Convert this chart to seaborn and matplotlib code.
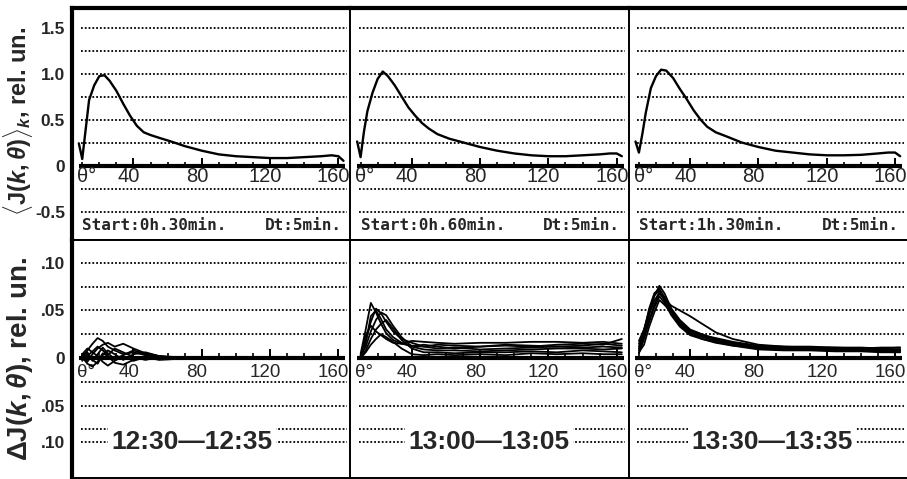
import numpy as np
import pandas as pd
import matplotlib
matplotlib.use("Agg")
import matplotlib.pyplot as plt
import seaborn as sns

# ---- data ----
# upper row: averaged angular distribution <J(k,theta)>_k
theta_top = [8, 10, 12, 14, 17, 20, 23, 26, 30, 34, 38, 42, 46, 50, 55, 62, 70,
             80, 90, 100, 110, 120, 130, 140, 150, 156, 160, 163]
mean_0030 = [0.25, 0.08, 0.40, 0.72, 0.88, 0.98, 0.99, 0.93, 0.82, 0.68, 0.55, 0.44, 0.37, 0.34,
             0.31, 0.27, 0.22, 0.17, 0.13, 0.11, 0.10, 0.09, 0.09, 0.10, 0.11, 0.12, 0.11, 0.06]
mean_0060 = [0.27, 0.10, 0.38, 0.60, 0.80, 0.95, 1.03, 0.98, 0.88, 0.76, 0.64, 0.55, 0.47, 0.41,
             0.35, 0.30, 0.26, 0.21, 0.17, 0.14, 0.12, 0.11, 0.11, 0.12, 0.13, 0.14, 0.14, 0.11]
mean_0130 = [0.27, 0.15, 0.35, 0.58, 0.85, 0.98, 1.05, 1.04, 0.96, 0.84, 0.73, 0.61, 0.51, 0.43,
             0.37, 0.32, 0.26, 0.21, 0.17, 0.15, 0.13, 0.12, 0.12, 0.125, 0.14, 0.15, 0.15, 0.11]
start_labels = ["Start:0h.30min.", "Start:0h.60min.", "Start:1h.30min."]
dt_label = "Dt:5min."

# lower row: deviations dJ(k,theta) for the individual k
theta_bot = [10, 13, 16, 19, 22, 25, 29, 34, 40, 47, 55, 65, 80, 95, 110, 125, 140, 152, 163]
dev_1230 = [
    [0.0, 0.008, 0.015, 0.021, 0.018, 0.012, 0.008, 0.004, 0.006, 0.003, 0.001, 0.001, 0.0, 0.001, 0.0, 0.001, 0.0, 0.001, 0.0],
    [0.002, -0.004, 0.004, 0.010, 0.014, 0.016, 0.012, 0.015, 0.010, 0.005, 0.002, 0.001, -0.001, 0.0, 0.001, 0.0, -0.001, 0.0, 0.001],
    [-0.003, 0.005, -0.002, -0.006, 0.003, 0.008, 0.004, -0.002, 0.004, 0.006, 0.002, 0.0, 0.001, -0.001, 0.0, 0.001, 0.001, -0.001, 0.0],
    [0.004, 0.010, 0.006, 0.002, -0.004, -0.008, -0.003, 0.002, -0.003, 0.001, -0.002, -0.001, 0.0, 0.001, -0.001, -0.001, 0.0, 0.0, 0.001],
    [0.001, -0.006, -0.009, -0.004, 0.005, 0.002, -0.005, -0.007, -0.002, 0.002, 0.0, 0.001, -0.001, 0.0, 0.0, 0.0, 0.001, 0.001, -0.001],
    [-0.002, 0.002, 0.007, 0.012, 0.008, 0.003, 0.010, 0.006, 0.001, -0.002, 0.001, -0.001, 0.001, 0.0, -0.001, 0.0, 0.0, -0.001, 0.0],
    [0.003, 0.006, -0.003, 0.004, 0.011, 0.005, -0.001, 0.003, 0.008, 0.004, 0.002, 0.0, 0.0, -0.001, 0.001, -0.001, -0.001, 0.001, 0.0],
]
dev_1300 = [
    [0.004, 0.030, 0.058, 0.048, 0.036, 0.026, 0.019, 0.015, 0.013, 0.012, 0.014, 0.013, 0.012, 0.013, 0.012, 0.014, 0.015, 0.014, 0.020],
    [0.0, 0.018, 0.038, 0.052, 0.047, 0.038, 0.028, 0.020, 0.016, 0.012, 0.010, 0.011, 0.009, 0.010, 0.011, 0.012, 0.011, 0.012, 0.011],
    [0.002, 0.012, 0.028, 0.040, 0.048, 0.045, 0.034, 0.022, 0.012, 0.009, 0.008, 0.008, 0.007, 0.008, 0.009, 0.010, 0.010, 0.009, 0.010],
    [0.0, 0.008, 0.020, 0.030, 0.036, 0.040, 0.031, 0.019, 0.010, 0.006, 0.006, 0.005, 0.006, 0.006, 0.007, 0.006, 0.008, 0.007, 0.006],
    [0.002, 0.024, 0.034, 0.028, 0.024, 0.020, 0.016, 0.015, 0.018, 0.017, 0.016, 0.015, 0.016, 0.016, 0.017, 0.017, 0.016, 0.017, 0.015],
    [0.0, 0.006, 0.014, 0.020, 0.025, 0.022, 0.017, 0.010, 0.004, 0.003, 0.004, 0.003, 0.004, 0.003, 0.005, 0.004, 0.005, 0.004, 0.004],
    [0.001, 0.016, 0.044, 0.050, 0.041, 0.030, 0.022, 0.016, 0.012, 0.014, 0.012, 0.010, 0.012, 0.014, 0.013, 0.012, 0.013, 0.015, 0.013],
]
dev_1330 = [
    [0.008, 0.025, 0.045, 0.065, 0.076, 0.068, 0.052, 0.040, 0.030, 0.025, 0.020, 0.016, 0.012, 0.011, 0.010, 0.010, 0.009, 0.009, 0.009],
    [0.012, 0.030, 0.050, 0.066, 0.071, 0.060, 0.047, 0.036, 0.028, 0.023, 0.019, 0.015, 0.011, 0.010, 0.010, 0.009, 0.009, 0.008, 0.009],
    [0.005, 0.020, 0.040, 0.056, 0.068, 0.062, 0.055, 0.050, 0.044, 0.036, 0.027, 0.020, 0.014, 0.012, 0.011, 0.011, 0.010, 0.011, 0.011],
    [0.015, 0.028, 0.052, 0.068, 0.073, 0.064, 0.050, 0.035, 0.026, 0.022, 0.018, 0.014, 0.010, 0.009, 0.009, 0.008, 0.008, 0.007, 0.007],
    [0.010, 0.022, 0.038, 0.053, 0.065, 0.058, 0.045, 0.033, 0.024, 0.020, 0.016, 0.013, 0.009, 0.008, 0.008, 0.007, 0.007, 0.006, 0.006],
    [0.018, 0.030, 0.047, 0.060, 0.069, 0.062, 0.050, 0.038, 0.029, 0.024, 0.021, 0.017, 0.013, 0.012, 0.012, 0.011, 0.011, 0.010, 0.011],
    [0.006, 0.014, 0.033, 0.048, 0.061, 0.056, 0.048, 0.034, 0.026, 0.020, 0.017, 0.013, 0.011, 0.010, 0.009, 0.009, 0.008, 0.008, 0.008],
]
interval_labels = ["12:30\u201412:35", "13:00\u201413:05", "13:30\u201413:35"]

# axis labelling
theta_ticks = [40, 80, 120, 160]
top_yticks = [1.5, 1.0, 0.5, 0.0, -0.5]
top_yticklabels = ["1.5", "1.0", "0.5", "0", "-0.5"]
top_grid = [1.5, 1.25, 1.0, 0.75, 0.5, 0.25, -0.25, -0.5]
bot_grid = [0.1, 0.075, 0.05, 0.025, -0.025, -0.05, -0.075]
row_text_y = -0.0885      # the bottom text row of the lower panels
bot_yticks = [0.1, 0.05, 0.0, -0.05, row_text_y]
bot_yticklabels = [".10", ".05", "0", ".05", ".10"]


def long_table(curves):
    rows = []
    for i, c in enumerate(curves):
        for t, v in zip(theta_bot, c):
            rows.append({"theta": t, "dJ": v, "k": i})
    return pd.DataFrame(rows)


def draw_theta_axis(ax, tick_h, big_h, fs, gap):
    ax.hlines(0, 8, 164, color="black", lw=3.0, zorder=3)
    minor = np.arange(10, 161, 10)
    ax.vlines(minor, 0, tick_h, color="black", lw=1.2, zorder=3)
    ax.vlines(theta_ticks, 0, big_h, color="black", lw=1.4, zorder=3)
    ax.annotate("\u03b8\u00b0", (7, 0), xytext=(0, -gap), textcoords="offset points",
                ha="left", va="top", fontsize=fs)
    for t in theta_ticks:
        ax.annotate(str(t), (t, 0), xytext=(-3.5, -gap), textcoords="offset points",
                    ha="center", va="top", fontsize=fs)


sns.set_theme(style="white")
plt.rcParams["font.family"] = ["Liberation Sans", "DejaVu Sans"]
plt.rcParams.update({
    "mathtext.fontset": "custom",
    "mathtext.rm": "Liberation Sans:bold",
    "mathtext.it": "Liberation Sans:italic:bold",
    "mathtext.bf": "Liberation Sans:bold",
})

fig = plt.figure(figsize=(9.07, 4.79), dpi=100)
axes = fig.subplots(2, 3, gridspec_kw=dict(left=72 / 907, right=1.0, top=1 - 8 / 479,
                                           bottom=1 / 479, wspace=0, hspace=0,
                                           height_ratios=[232, 238]))

dots = (0, (1.0, 1.1))
top_series = [mean_0030, mean_0060, mean_0130]
bot_series = [dev_1230, dev_1300, dev_1330]
title_x = [74, 85, 88]

for j in range(3):
    ax = axes[0, j]
    ax.set_xlim(4, 167)
    ax.set_ylim(-0.80, 1.72)
    ax.hlines(top_grid, 9, 165, color="black", lw=1.3, linestyles=[dots], zorder=1)
    sns.lineplot(x=theta_top, y=top_series[j], sort=False, color="black", lw=1.7, ax=ax, zorder=4)
    draw_theta_axis(ax, 0.05, 0.09, 14.5, 0.5)
    ax.text(10, -0.645, start_labels[j], family="DejaVu Sans Mono", weight="bold",
            fontsize=11.5, ha="left", va="center")
    ax.text(162, -0.645, dt_label, family="DejaVu Sans Mono", weight="bold",
            fontsize=11.5, ha="right", va="center")

    ax = axes[1, j]
    ax.set_xlim(4, 167)
    ax.set_ylim(-0.1263, 0.1242)
    ax.hlines(bot_grid + [row_text_y], 9, 165, color="black", lw=1.3, linestyles=[dots], zorder=1)
    sns.lineplot(data=long_table(bot_series[j]), x="theta", y="dJ", units="k",
                 estimator=None, color="black", lw=1.3, ax=ax, zorder=4)
    draw_theta_axis(ax, 0.005, 0.009, 13.5, 4)
    ax.text(title_x[j], row_text_y, interval_labels[j], fontsize=19, weight="bold",
            ha="center", va="center",
            bbox=dict(facecolor="white", edgecolor="none", pad=2.5), zorder=5)

for ax in axes.flat:
    ax.set_xlabel("")
    ax.set_ylabel("")
    ax.set_xticks([])
    for s in ax.spines.values():
        s.set_color("black")
        s.set_linewidth(1.4)
    ax.spines["right"].set_visible(False)
    ax.tick_params(axis="y", length=0, pad=5, labelsize=12.5)

for ax in axes[:, 1:].flat:
    ax.set_yticks([])
for ax in axes[0]:
    ax.spines["top"].set_linewidth(3)
axes[0, 0].set_yticks(top_yticks, top_yticklabels, fontweight="bold")
axes[1, 0].set_yticks(bot_yticks, bot_yticklabels, fontweight="bold")
for ax in axes[:, 0]:
    ax.spines["left"].set_linewidth(3)

fig.text(18 / 907, 1 - 121 / 479, r"$\langle\mathrm{J}(k,\theta)\rangle_k$, rel. un.",
         rotation=90, ha="center", va="center", fontsize=17, fontweight="bold")
fig.text(20 / 907, 1 - 359 / 479, r"$\Delta\mathrm{J}(k,\theta)$, rel. un.",
         rotation=90, ha="center", va="center", fontsize=20, fontweight="bold")

fig.savefig("out.png", dpi=100)
plt.close(fig)
